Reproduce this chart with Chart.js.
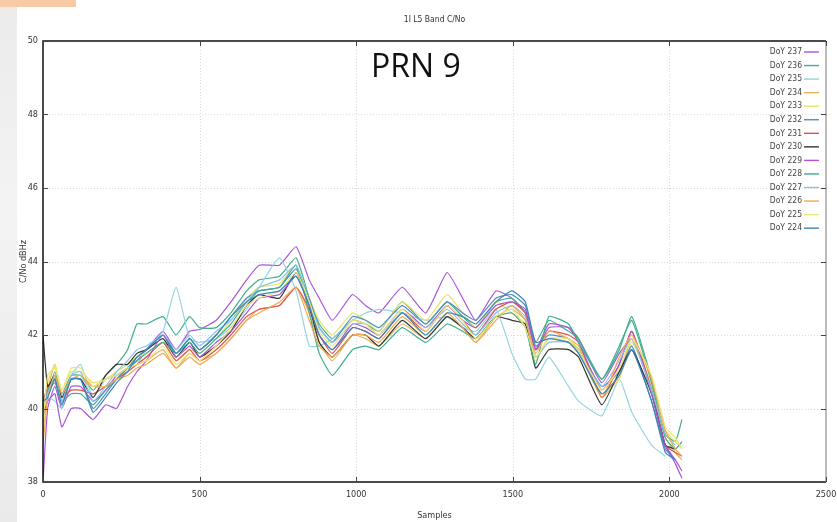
<!DOCTYPE html>
<html>
<head>
<meta charset="utf-8">
<script src="https://cdn.jsdelivr.net/npm/chart.js@4.4.0/dist/chart.umd.min.js"></script>
<style>
html, body { margin: 0; padding: 0; background: #fff; }
#wrap { position: relative; width: 837px; height: 522px; overflow: hidden; background: #fff; }
#strip { position: absolute; left: 0; top: 0; width: 17px; height: 522px; background: linear-gradient(#ebebeb, #f3f3f3 40%, #eaeaea); }
#tab { position: absolute; left: 0; top: 0; width: 76px; height: 7px; background: #f8caa6; }
canvas { position: absolute; left: 0; top: 0; }
</style>
</head>
<body>
<div id="wrap">
  <div id="strip"></div>
  <div id="tab"></div>
  <canvas id="c" width="837" height="522"></canvas>
</div>
<script>
// Sample index of each reading
const samples = [0, 15, 38, 60, 90, 120, 160, 200, 235, 270, 300, 330, 383, 425, 468, 500, 553, 600, 650, 690,
  755, 808, 850, 882, 924, 988, 1030, 1073, 1147, 1222, 1290, 1340, 1382, 1446, 1497, 1540, 1573, 1615, 1678, 1710,
  1784, 1840, 1880, 1943, 1987, 2019, 2040];

// C/No (dBHz) per day of year
const doy237 = [38.0,40.0,40.6,40.0,40.6, 40.6,40.2,40.5,40.9,41.1, 41.3,41.6,42.1,41.6,42.1, 42.15,42.4,42.9,43.5,43.9, 43.9,44.4,43.5,43.0,42.4, 43.1,42.8,42.6,43.3,42.6, 43.7,43.0,42.4,43.2,43.0, 42.6,41.6,42.2,42.2,41.9, 40.7,41.5,41.9,40.5,39.0, 38.5,38.1];
const doy236 = [40.0,40.4,41.0,40.4,40.9, 40.9,40.5,40.9,41.2,41.6, 42.3,42.3,42.5,42.0,42.5, 42.2,42.2,42.6,43.2,43.5, 43.6,44.1,43.0,42.3,41.9, 42.4,42.3,42.1,42.9,42.3, 42.9,42.5,42.2,42.9,43.0, 42.6,41.8,42.4,42.1,41.9, 40.8,41.6,42.5,40.8,39.3, 39.1,39.7];
const doy235 = [40.3,40.3,40.2,40.0,40.9, 41.2,40.3,40.8,40.9,41.1, 41.2,41.6,42.1,43.3,41.9, 41.8,41.9,42.2,42.7,43.3, 44.1,43.2,41.7,41.7,41.9, 42.4,42.6,42.7,42.6,42.4, 42.5,42.2,42.1,42.7,41.5, 40.8,40.8,41.4,40.6,40.2, 39.8,40.8,39.9,39.0,38.7, null,null];
const doy234 = [39.5,40.5,41.2,40.3,40.8, 40.8,40.6,40.8,40.9,41.0, 41.2,41.3,41.6,41.1,41.5, 41.3,41.5,41.9,42.4,42.7, 42.8,43.3,42.6,41.8,41.3, 42.0,41.9,41.7,42.3,41.9, 42.5,42.2,41.8,42.5,42.7, 42.4,41.4,41.9,41.8,41.6, 40.3,40.9,41.9,40.6,39.2, 38.8,38.6];
const doy233 = [39.3,40.7,41.2,40.5,41.0, 41.0,40.7,40.8,41.0,41.2, 41.4,41.5,41.8,41.3,41.6, 41.5,41.9,42.4,43.0,43.3, 43.4,43.9,43.0,42.4,42.0, 42.6,42.4,42.1,42.9,42.4, 43.1,42.6,42.2,42.9,42.6, 42.3,41.3,41.9,41.8,41.6, 40.4,40.8,41.8,40.6,39.4, 39.1,38.9];
const doy232 = [40.0,40.5,40.8,40.1,40.8, 40.8,40.0,40.4,40.8,41.1, 41.4,41.6,42.0,41.5,41.9, 41.6,42.0,42.5,43.0,43.2, 43.3,43.8,43.0,42.2,41.8, 42.5,42.4,42.2,42.8,42.3, 42.9,42.6,42.4,43.0,43.1, 42.8,41.7,42.0,41.9,41.6, 40.6,41.0,41.7,40.2,38.9, 38.6,null];
const doy231 = [40.2,40.6,40.8,40.3,40.5, 40.5,40.4,40.6,40.8,41.0, 41.2,41.4,41.8,41.3,41.6, 41.3,41.6,42.0,42.5,42.7, 42.8,43.3,42.7,42.0,41.5, 42.2,42.1,41.9,42.6,42.1, 42.8,42.4,42.0,42.7,42.9, 42.6,41.6,42.1,42.0,41.8, 40.3,41.2,42.1,40.5,39.0, 38.8,38.7];
const doy230 = [42.0,40.6,40.9,40.3,40.8, 40.8,40.3,40.9,41.2,41.2, 41.5,41.6,41.9,41.4,41.8, 41.4,41.7,42.1,42.8,43.1, 43.0,43.7,42.8,41.8,41.4, 42.0,42.0,41.7,42.4,41.9, 42.5,42.2,41.9,42.5,42.4, 42.3,41.1,41.6,41.6,41.4, 40.1,41.0,41.6,40.4,39.0, 38.9,null];
const doy229 = [39.8,40.2,40.4,39.5,40.0, 40.0,39.7,40.1,40.0,40.6, 41.0,41.3,42.0,41.4,41.7, 41.4,41.8,42.1,42.6,43.0, 43.1,43.6,42.8,42.0,41.6, 42.3,42.2,42.0,42.7,42.2, 42.8,42.4,42.2,42.8,42.9, 42.7,41.6,42.3,42.2,41.8, 40.5,41.2,42.1,40.4,39.0, 38.6,38.3];
const doy228 = [40.0,40.5,40.7,40.2,40.4, 40.4,40.1,40.5,40.8,41.1, 41.3,41.5,41.8,41.5,41.8, 41.5,41.9,42.3,42.9,43.2, 43.3,43.9,42.6,41.5,40.9, 41.6,41.7,41.6,42.2,41.8, 42.3,42.1,41.9,42.5,42.6, 42.2,41.2,42.5,42.3,41.8, 40.8,41.7,42.4,40.7,39.2, 38.9,39.1];
const doy227 = [40.1,40.4,40.9,40.2,40.9, 41.0,40.2,40.6,41.0,41.3, 41.6,41.7,42.0,41.6,42.0, 41.7,42.1,42.4,42.9,43.3, 43.5,43.9,42.9,42.2,41.8, 42.3,42.3,42.0,42.6,42.2, 42.7,42.3,42.0,42.6,42.8, 42.5,41.4,41.8,41.8,41.5, 40.6,41.3,41.9,40.5,39.3, 39.0,null];
const doy226 = [39.0,40.3,40.9,40.4,40.8, 40.9,40.6,40.6,40.8,40.9, 41.1,41.2,41.5,41.1,41.4, 41.2,41.5,41.9,42.4,42.6, 42.9,43.3,42.4,41.7,41.4, 42.0,42.0,41.8,42.5,42.0, 42.6,42.2,41.8,42.4,42.8, 42.4,41.5,42.1,41.9,41.7, 40.3,41.4,42.0,40.8,39.4, 38.9,38.7];
const doy225 = [39.6,40.9,41.1,40.5,41.1, 41.1,40.6,40.8,40.9,41.1, 41.2,41.3,41.7,41.2,41.5, 41.3,41.7,42.2,42.8,43.0, 43.2,43.7,42.9,42.1,41.7, 42.4,42.3,42.0,42.7,42.1, 42.8,42.4,41.9,42.5,42.7, 42.2,41.4,41.9,41.9,41.6, 40.5,41.1,41.9,40.9,39.5, 39.2,38.9];
const doy224 = [40.2,40.3,40.8,40.1,40.8, 40.8,39.9,40.3,40.7,41.0, 41.4,41.6,42.0,41.5,41.9, 41.6,42.0,42.5,42.9,43.1, 43.2,43.6,42.8,42.0,41.6, 42.2,42.1,41.9,42.6,42.0, 42.6,42.5,42.3,42.9,43.2, 42.9,41.8,41.9,41.8,41.5, 40.4,40.9,41.6,40.2,38.8, 38.6,null];

const seriesLabels = ['DoY 237', 'DoY 236', 'DoY 235', 'DoY 234', 'DoY 233', 'DoY 232', 'DoY 231',
  'DoY 230', 'DoY 229', 'DoY 228', 'DoY 227', 'DoY 226', 'DoY 225', 'DoY 224'];
const seriesValues = [doy237, doy236, doy235, doy234, doy233, doy232, doy231,
  doy230, doy229, doy228, doy227, doy226, doy225, doy224];
const seriesColors = ['#a855d8', '#3fae8c', '#93d3e6', '#e6b25e', '#e8e36a', '#4f8fc0', '#e0524f',
  '#333333', '#a855d8', '#3fae8c', '#86c3ee', '#f0aa52', '#ede672', '#3a86b6'];

const FONT = "'Liberation Sans Narrow', 'DejaVu Sans Condensed', 'Liberation Sans', sans-serif";
const textColor = '#333333';

const datasets = seriesLabels.map((label, i) => ({
    label: label,
    data: samples.map((s, j) => ({ x: s, y: seriesValues[i][j] })),
    borderColor: seriesColors[i],
    backgroundColor: seriesColors[i],
    borderWidth: 1.2,
    pointRadius: 0,
    tension: 0.15,
    fill: false,
    spanGaps: false,
    order: seriesLabels.length - i
}));

// Grid, frame, inward ticks, in-plot legend and headings
const decor = {
    id: 'decor',
    beforeDatasetsDraw(chart) {
        const { ctx, chartArea: a, scales: { x, y } } = chart;
        ctx.save();
        ctx.strokeStyle = '#d9d9d9';
        ctx.lineWidth = 1;
        ctx.setLineDash([1, 2]);
        x.ticks.forEach(t => {
            const px = Math.round(x.getPixelForValue(t.value)) + 0.5;
            if (px > a.left + 2 && px < a.right - 2) {
                ctx.beginPath(); ctx.moveTo(px, a.top); ctx.lineTo(px, a.bottom); ctx.stroke();
            }
        });
        y.ticks.forEach(t => {
            const py = Math.round(y.getPixelForValue(t.value)) + 0.5;
            if (py > a.top + 2 && py < a.bottom - 2) {
                ctx.beginPath(); ctx.moveTo(a.left, py); ctx.lineTo(a.right, py); ctx.stroke();
            }
        });
        ctx.restore();
    },
    afterDraw(chart) {
        const { ctx, chartArea: a, scales: { x, y } } = chart;
        ctx.save();

        // frame
        ctx.lineWidth = 1.5;
        ctx.strokeStyle = '#111';
        ctx.beginPath();
        ctx.moveTo(a.right, a.top); ctx.lineTo(a.left, a.top); ctx.lineTo(a.left, a.bottom); ctx.lineTo(a.right, a.bottom);
        ctx.stroke();
        ctx.lineWidth = 1;
        ctx.strokeStyle = '#777';
        ctx.beginPath(); ctx.moveTo(a.right, a.top); ctx.lineTo(a.right, a.bottom); ctx.stroke();

        // inward tick marks
        ctx.strokeStyle = '#444';
        ctx.lineWidth = 1;
        x.ticks.forEach(t => {
            const px = Math.round(x.getPixelForValue(t.value)) + 0.5;
            ctx.beginPath();
            ctx.moveTo(px, a.bottom); ctx.lineTo(px, a.bottom - 5);
            ctx.moveTo(px, a.top); ctx.lineTo(px, a.top + 5);
            ctx.stroke();
        });
        y.ticks.forEach(t => {
            const py = Math.round(y.getPixelForValue(t.value)) + 0.5;
            ctx.beginPath();
            ctx.moveTo(a.left, py); ctx.lineTo(a.left + 5, py);
            ctx.moveTo(a.right, py); ctx.lineTo(a.right - 5, py);
            ctx.stroke();
        });

        // legend inside the plot, top right
        ctx.font = '8.5px ' + FONT;
        ctx.textAlign = 'right';
        ctx.textBaseline = 'middle';
        chart.data.datasets.forEach((ds, i) => {
            const ly = a.top + 11 + i * 13.55;
            ctx.fillStyle = '#444';
            ctx.fillText(ds.label, a.right - 24, ly);
            ctx.strokeStyle = ds.borderColor;
            ctx.lineWidth = 1.4;
            ctx.beginPath(); ctx.moveTo(a.right - 22, ly); ctx.lineTo(a.right - 7, ly); ctx.stroke();
        });

        // chart title
        ctx.fillStyle = textColor;
        ctx.textAlign = 'center';
        ctx.font = '8.5px ' + FONT;
        ctx.fillText('1I L5 Band C/No', (a.left + a.right) / 2, 20);

        // satellite label
        ctx.fillStyle = '#111';
        ctx.textAlign = 'left';
        ctx.textBaseline = 'alphabetic';
        ctx.font = "32px 'Open Sans', 'Noto Sans', sans-serif";
        ctx.fillText('PRN 9', 371, 77);

        ctx.restore();
    }
};

const ctx = document.getElementById('c').getContext('2d');
new Chart(ctx, {
    type: 'line',
    data: { datasets: datasets },
    options: {
        responsive: false,
        animation: false,
        layout: { padding: { top: 41, right: 11, left: 0, bottom: 0 } },
        scales: {
            x: {
                type: 'linear',
                min: 0,
                max: 2500,
                ticks: {
                    stepSize: 500,
                    color: textColor,
                    font: { family: FONT, size: 9 },
                    padding: 7,
                    maxRotation: 0,
                    callback: (value) => String(value)
                },
                grid: { display: false, drawTicks: false },
                border: { display: false },
                title: {
                    display: true,
                    text: 'Samples',
                    color: textColor,
                    font: { family: FONT, size: 9 },
                    padding: { top: 0, bottom: 1 }
                },
                afterFit(scale) {
                    scale.height = 40;
                    // keep the plot edges where the reference has them
                    scale.paddingLeft = 0;
                    scale.paddingRight = 0;
                }
            },
            y: {
                type: 'linear',
                min: 38,
                max: 50,
                ticks: {
                    stepSize: 2,
                    color: textColor,
                    font: { family: FONT, size: 9 },
                    padding: 5,
                    callback: (value) => String(value)
                },
                grid: { display: false, drawTicks: false },
                border: { display: false },
                title: {
                    display: true,
                    text: 'C/No dBHz',
                    color: textColor,
                    font: { family: FONT, size: 9 },
                    padding: { top: 18, bottom: 0 }
                },
                afterFit(scale) { scale.width = 43; }
            }
        },
        plugins: {
            legend: { display: false },
            tooltip: { enabled: false },
            title: { display: false }
        }
    },
    plugins: [decor]
});
</script>
</body>
</html>
